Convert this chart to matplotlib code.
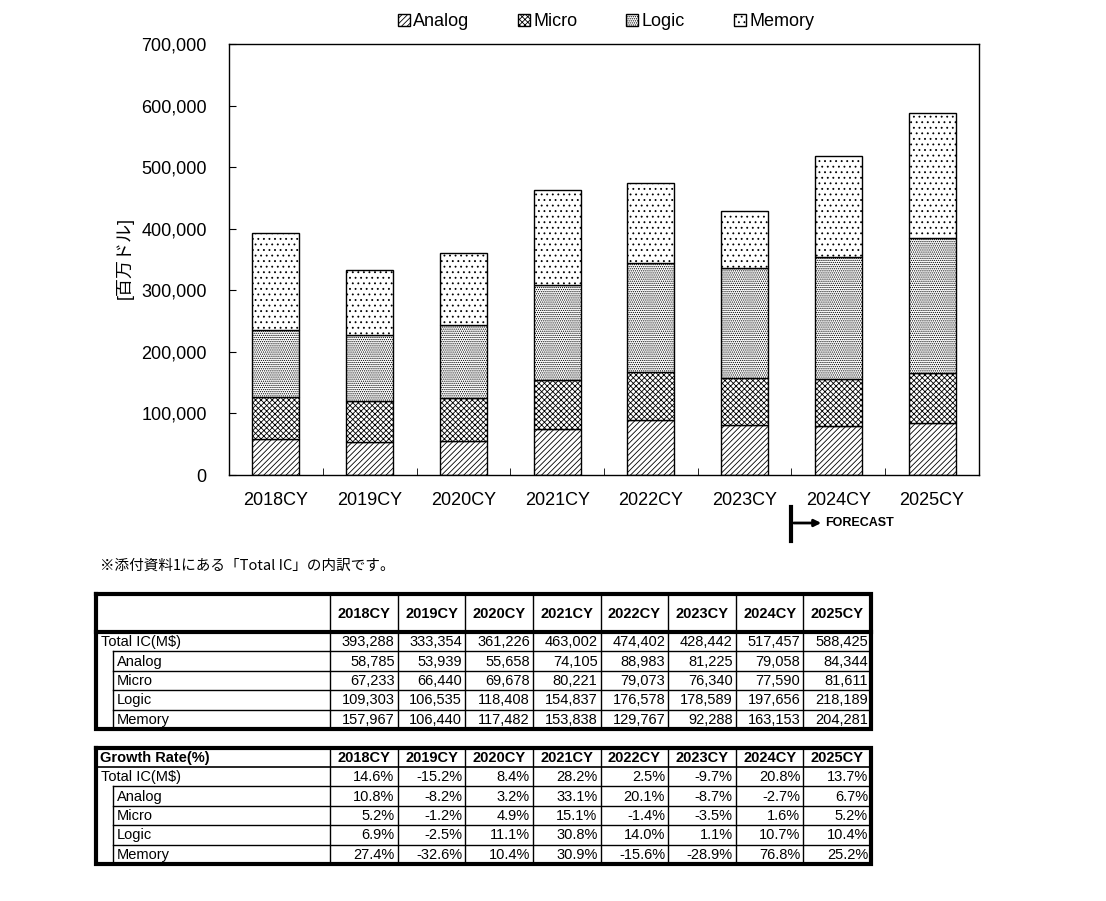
import matplotlib.pyplot as plt
import numpy as np

plt.rcParams['font.family'] = ['Liberation Sans', 'Noto Sans CJK JP', 'DejaVu Sans']
plt.rcParams['hatch.linewidth'] = 0.6

years = ['2018CY', '2019CY', '2020CY', '2021CY', '2022CY', '2023CY', '2024CY', '2025CY']
series_names = ['Analog', 'Micro', 'Logic', 'Memory']
analog = [58785, 53939, 55658, 74105, 88983, 81225, 79058, 84344]
micro = [67233, 66440, 69678, 80221, 79073, 76340, 77590, 81611]
logic = [109303, 106535, 118408, 154837, 176578, 178589, 197656, 218189]
memory = [157967, 106440, 117482, 153838, 129767, 92288, 163153, 204281]
total = [393288, 333354, 361226, 463002, 474402, 428442, 517457, 588425]

growth_total = [14.6, -15.2, 8.4, 28.2, 2.5, -9.7, 20.8, 13.7]
growth_analog = [10.8, -8.2, 3.2, 33.1, 20.1, -8.7, -2.7, 6.7]
growth_micro = [5.2, -1.2, 4.9, 15.1, -1.4, -3.5, 1.6, 5.2]
growth_logic = [6.9, -2.5, 11.1, 30.8, 14.0, 1.1, 10.7, 10.4]
growth_memory = [27.4, -32.6, 10.4, 30.9, -15.6, -28.9, 76.8, 25.2]

row_labels = ['Total IC(M$)', 'Analog', 'Micro', 'Logic', 'Memory']
hatches = ['//////', 'xxxxxx', '........', '...']

W, H = 1106, 901
fig = plt.figure(figsize=(W / 100, H / 100), dpi=100)
ax = fig.add_axes([229 / W, 1 - 475 / H, 750 / W, 431 / H])

x = np.arange(len(years))
bottom = np.zeros(len(years))
handles = []
for name, vals, h in zip(series_names, [analog, micro, logic, memory], hatches):
    b = ax.bar(x, vals, 0.5, bottom=bottom, color='white', edgecolor='black',
               linewidth=1, hatch=h, label=name)
    handles.append(b)
    bottom += np.array(vals)

ax.set_xlim(-0.5, len(years) - 0.5)
ax.set_ylim(0, 700000)
ax.set_yticks(range(0, 700001, 100000))
ax.set_yticklabels([f'{v:,}' for v in range(0, 700001, 100000)], fontsize=13)
ax.tick_params(axis='y', direction='in', length=5, pad=16)
ax.set_xticks(x)
ax.set_xticklabels(years, fontsize=13)
ax.tick_params(axis='x', which='major', length=0, pad=12)
ax.set_xticks(x[:-1] + 0.5, minor=True)
ax.tick_params(axis='x', which='minor', direction='in', length=5)
for s in ax.spines.values():
    s.set_linewidth(1)

fig.text(125 / W, 1 - 258 / H, '[百万ドル]', rotation=90, ha='center', va='center', fontsize=13)

fig.legend(handles, series_names, loc='center', bbox_to_anchor=(606 / W, 1 - 22 / H),
           ncol=4, frameon=False, fontsize=13, handlelength=0.65, handleheight=0.65,
           handletextpad=0.2, columnspacing=2.7)

# overlay in pixel coordinates for forecast mark, note and tables
tax = fig.add_axes([0, 0, 1, 1])
tax.set_xlim(0, W)
tax.set_ylim(H, 0)
tax.axis('off')

tax.plot([791, 791], [507, 541], color='black', lw=3)
tax.annotate('', xy=(824, 523), xytext=(791, 523),
             arrowprops=dict(arrowstyle='-|>', color='black', lw=2, mutation_scale=10))
tax.text(825, 523, 'FORECAST', fontsize=9, fontweight='bold', va='center', ha='left')

tax.text(100, 566, '※添付資料1にある「Total IC」の内訳です。', fontsize=10.5, va='center', ha='left',
         family=['Noto Sans CJK JP', 'DejaVu Sans'])


def draw_table(y_top, y_head, row_h, corner, rows, fmt, thick_head):
    x0, x1 = 96, 871
    cols = [330 + i * (x1 - 330) / len(years) for i in range(len(years) + 1)]
    y_bot = y_head + row_h * len(rows)
    # column lines
    for cx in cols[:-1]:
        tax.plot([cx, cx], [y_top, y_bot], color='black', lw=1)
    # row lines
    for i in range(1, len(rows)):
        yy = y_head + i * row_h
        tax.plot([113, x1], [yy, yy], color='black', lw=1)
    tax.plot([113, 113], [y_head + row_h, y_bot], color='black', lw=1)
    tax.plot([x0, x1], [y_head, y_head], color='black', lw=3 if thick_head else 1.2)
    tax.plot([x0, x1, x1, x0, x0], [y_top, y_top, y_bot, y_bot, y_top], color='black', lw=3,
             solid_joinstyle='miter')
    yc = (y_top + y_head) / 2
    if corner:
        tax.text(100, yc + 0.5, corner, fontsize=10.5, fontweight='bold', va='center', ha='left')
    for j, yr in enumerate(years):
        tax.text((cols[j] + cols[j + 1]) / 2, yc + 0.5, yr, fontsize=10.5, fontweight='bold',
                 va='center', ha='center')
    for i, (lab, vals) in enumerate(zip(row_labels, rows)):
        ry = y_head + (i + 0.5) * row_h + 0.5
        tax.text(101 if i == 0 else 117, ry, lab, fontsize=10.5, va='center', ha='left')
        for j, v in enumerate(vals):
            tax.text(cols[j + 1] - 3, ry, fmt(v), fontsize=10.5, va='center', ha='right')


draw_table(594, 632, 19.4, '', [total, analog, micro, logic, memory],
           lambda v: f'{v:,}', True)
draw_table(748, 767, 19.4, 'Growth Rate(%)',
           [growth_total, growth_analog, growth_micro, growth_logic, growth_memory],
           lambda v: f'{v:.1f}%', False)

fig.savefig('out.png', dpi=100)
